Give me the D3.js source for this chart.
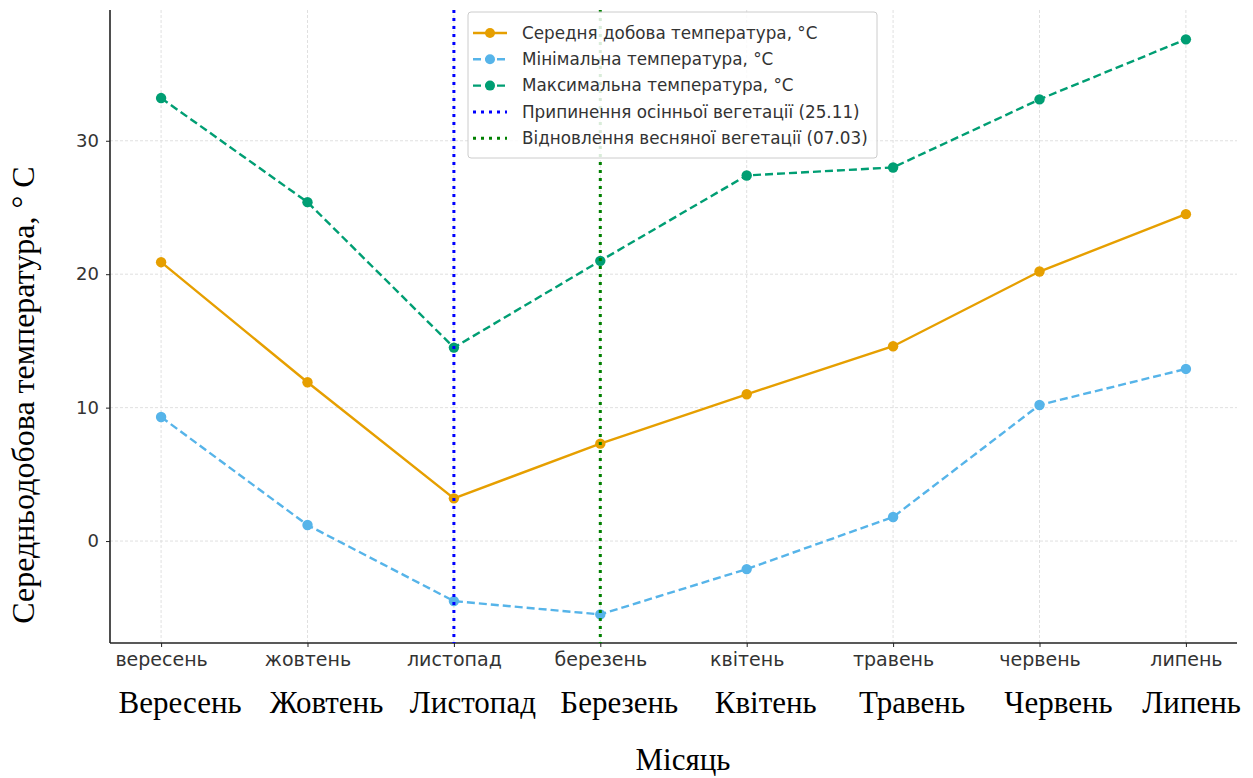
<!DOCTYPE html>
<html><head><meta charset="utf-8">
<script src="https://cdn.jsdelivr.net/npm/d3@7"></script>
<style>body{margin:0;background:#fff}svg{display:block}</style>
</head><body>
<script>
const months = ["вересень","жовтень","листопад","березень","квітень","травень","червень","липень"];
const monthsCap = ["Вересень","Жовтень","Листопад","Березень","Квітень","Травень","Червень","Липень"];
const meanT = [20.9, 11.9, 3.2, 7.3, 11.0, 14.6, 20.2, 24.5];
const minT  = [9.3, 1.2, -4.5, -5.5, -2.1, 1.8, 10.2, 12.9];
const maxT  = [33.2, 25.4, 14.5, 21.0, 27.4, 28.0, 33.1, 37.6];
const yTicks = [0, 10, 20, 30];
const vLines = [
  {month:"листопад", label:"Припинення осінньої вегетації (25.11)", color:"#0000ff"},
  {month:"березень", label:"Відновлення весняної вегетації (07.03)", color:"#008000"}
];
const series = [
  {label:"Середня добова температура, °C", values:meanT, color:"#E69F00", dash:null},
  {label:"Мінімальна температура, °C", values:minT, color:"#56B4E9", dash:"8,4"},
  {label:"Максимальна температура, °C", values:maxT, color:"#009E73", dash:"8,4"}
];

const W=1253, H=778;
const svg = d3.select("body").append("svg").attr("width",W).attr("height",H);
const L=110, R=1237, T=10, B=643;
const x = d3.scalePoint().domain(months).range([L,R]).padding(0.349);
const y = d3.scaleLinear().domain([-7.64, 39.8]).range([B,T]);

// grid
const g = svg.append("g");
g.selectAll(".vg").data(months).join("line")
  .attr("x1",d=>x(d)).attr("x2",d=>x(d)).attr("y1",T).attr("y2",B)
  .attr("stroke","#dcdcdc").attr("stroke-width",0.9).attr("stroke-dasharray","3,2");
g.selectAll(".hg").data(yTicks).join("line")
  .attr("x1",L).attr("x2",R).attr("y1",d=>y(d)).attr("y2",d=>y(d))
  .attr("stroke","#dcdcdc").attr("stroke-width",0.9).attr("stroke-dasharray","3,2");

// axes
const xAxis = d3.axisBottom(x).tickSize(4).tickPadding(6);
const xa = svg.append("g").attr("transform",`translate(0,${B})`).call(xAxis);
xa.select(".domain").attr("stroke","#222").attr("stroke-width",1.6).attr("d",`M${L},0H${R}`);
xa.selectAll(".tick line").attr("stroke","#222");
xa.selectAll(".tick text").attr("font-family","DejaVu Sans").attr("font-size",19).attr("fill","#333");

const yAxis = d3.axisLeft(y).tickValues(yTicks).tickSize(4).tickPadding(7);
const ya = svg.append("g").attr("transform",`translate(${L},0)`).call(yAxis);
ya.select(".domain").attr("stroke","#222").attr("stroke-width",1.6).attr("d",`M0,${T}V${B}`);
ya.selectAll(".tick line").attr("stroke","#222");
ya.selectAll(".tick text").attr("font-family","DejaVu Sans").attr("font-size",18).attr("fill","#333");

// series
const line = d3.line().x((d,i)=>x(months[i])).y(d=>y(d));
series.forEach(s=>{
  svg.append("path").datum(s.values).attr("d",line).attr("fill","none")
    .attr("stroke",s.color).attr("stroke-width",2.4)
    .attr("stroke-dasharray",s.dash);
  svg.selectAll(null).data(s.values).join("circle")
    .attr("cx",(d,i)=>x(months[i])).attr("cy",d=>y(d)).attr("r",5.2).attr("fill",s.color);
});

// vertical lines
vLines.forEach(v=>{
  svg.append("line").attr("x1",x(v.month)).attr("x2",x(v.month)).attr("y1",T).attr("y2",B)
    .attr("stroke",v.color).attr("stroke-width",3).attr("stroke-dasharray","3,5");
});

// legend
const lg = svg.append("g");
lg.append("rect").attr("x",468).attr("y",12).attr("width",409).attr("height",146).attr("rx",3)
  .attr("fill","#fff").attr("fill-opacity",0.85).attr("stroke","#ccc");
const items = series.map(s=>({label:s.label,color:s.color,dash:s.dash,marker:true,type:"s"}))
  .concat(vLines.map(v=>({label:v.label,color:v.color,dash:"3,5",marker:false,type:"v"})));
items.forEach((it,i)=>{
  const yy = 33 + i*26.3;
  lg.append("line").attr("x1",473).attr("x2",507).attr("y1",yy).attr("y2",yy)
    .attr("stroke",it.color).attr("stroke-width",it.type==="v"?3:2.4).attr("stroke-dasharray",it.dash);
  if(it.marker) lg.append("circle").attr("cx",490).attr("cy",yy).attr("r",5).attr("fill",it.color);
  lg.append("text").attr("x",522).attr("y",yy).attr("dy","0.35em")
    .attr("font-family","DejaVu Sans").attr("font-size",16.8).attr("fill","#333").text(it.label);
});

// second row labels (serif)
const caps = svg.selectAll(".cap").data(monthsCap).join("text")
  .attr("x",(d,i)=>x(months[i])+19).attr("y",713).attr("text-anchor","middle")
  .attr("font-family","Liberation Serif").attr("font-size",31).attr("fill","#000").text(d=>d);
caps.each(function(){
  const el=d3.select(this); const w=this.getComputedTextLength(); const cx=+el.attr("x");
  if(cx+w/2>W-12) el.attr("x",W-12-w/2);
});

svg.append("text").attr("x",683).attr("y",770).attr("text-anchor","middle")
  .attr("font-family","Liberation Serif").attr("font-size",31).attr("fill","#000").text("Місяць");

svg.append("text").attr("transform",`translate(34,395) rotate(-90)`).attr("text-anchor","middle")
  .attr("font-family","Liberation Serif").attr("font-size",32).attr("fill","#000")
  .text("Середньодобова температура, ° С");
</script>
</body></html>
